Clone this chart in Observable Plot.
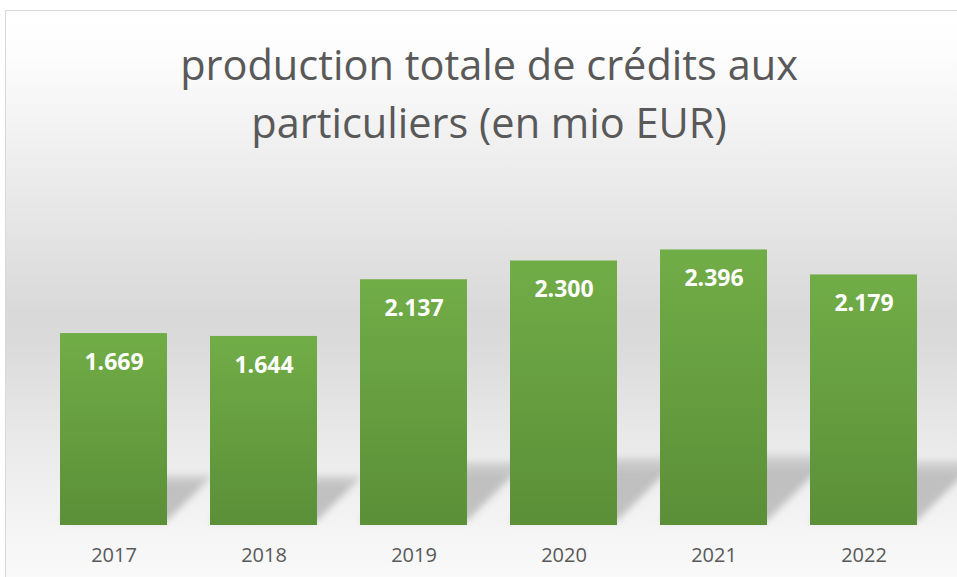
<!DOCTYPE html>
<html>
<head>
<meta charset="utf-8">
<script src="https://cdn.jsdelivr.net/npm/d3@7"></script>
<script src="https://cdn.jsdelivr.net/npm/@observablehq/plot@0.6"></script>
<style>
  html, body { margin: 0; padding: 0; background: #ffffff; }
  #wrap { position: relative; width: 957px; height: 577px; overflow: hidden; font-family: "Open Sans", sans-serif; }
  #panel { position: absolute; left: 5px; top: 10px; width: 970px; height: 600px; box-sizing: border-box;
    border: 1.5px solid #d9d9d9;
    background: linear-gradient(to bottom, #ffffff 0px, #fdfdfd 40px, #d9d9d9 300px, #dadada 330px, #e8e8e8 420px, #f6f6f6 530px, #fcfcfc 600px); }
  #title { position: absolute; left: 0; width: 978px; top: 35px; text-align: center; color: #595959;
    font-size: 41.5px; line-height: 58px; font-weight: 400; }
  #chart { position: absolute; left: 0; top: 170px; }
</style>
</head>
<body>
<div id="wrap">
  <div id="panel"></div>
  <div id="title">production totale de crédits aux<br>particuliers (en mio EUR)</div>
  <div id="chart"></div>
</div>
<script>
const years = ["2017", "2018", "2019", "2020", "2021", "2022"];
const values = [1669, 1644, 2137, 2300, 2396, 2179];

const data = years.map((year, i) => ({year, value: values[i]}));
const fmt = d3.formatLocale({decimal: ",", thousands: ".", grouping: [3], currency: ["", " €"]}).format(",d");

const svg = Plot.plot({
  width: 957,
  height: 407,
  marginLeft: 60,
  marginRight: 40,
  marginTop: 56,
  marginBottom: 52,
  style: {background: "transparent", color: "#595959", fontFamily: "'Open Sans', sans-serif", overflow: "visible"},
  x: {domain: years, paddingInner: 0.287, paddingOuter: 0, label: null},
  y: {domain: [0, 2600], axis: null},
  marks: [
    Plot.barY(data, {x: "year", y: "value", fill: "url(#shadowGrad)"}),
    Plot.barY(data, {x: "year", y: "value", fill: "url(#barGrad)"}),
    Plot.text(data, {x: "year", y: "value", text: d => fmt(d.value), dy: 29, fill: "white",
      fontWeight: "bold", fontSize: 23, lineAnchor: "middle"}),
    Plot.axisX({tickSize: 0, tickPadding: 22, fontSize: 20, label: null})
  ]
});

const s = d3.select(svg);
const defs = s.insert("defs", ":first-child");
const g1 = defs.append("linearGradient").attr("id", "barGrad").attr("x1", 0).attr("y1", 0).attr("x2", 0).attr("y2", 1);
g1.append("stop").attr("offset", "0%").attr("stop-color", "#71ad47");
g1.append("stop").attr("offset", "100%").attr("stop-color", "#5b8f38");
const g2 = defs.append("linearGradient").attr("id", "shadowGrad").attr("x1", 0).attr("y1", 0).attr("x2", 0).attr("y2", 1);
g2.append("stop").attr("offset", "0%").attr("stop-color", "#bdbdbd").attr("stop-opacity", 0.5);
g2.append("stop").attr("offset", "25%").attr("stop-color", "#bfbfbf").attr("stop-opacity", 1);
g2.append("stop").attr("offset", "100%").attr("stop-color", "#c2c2c2").attr("stop-opacity", 1);
const f = defs.append("filter").attr("id", "blur").attr("x", "-50%").attr("y", "-50%").attr("width", "200%").attr("height", "200%");
f.append("feGaussianBlur").attr("stdDeviation", 3.5);

const barGroups = s.selectAll("g[aria-label='bar']").nodes();
if (barGroups.length) {
  const shadow = d3.select(barGroups[0]);
  shadow.attr("filter", "url(#blur)");
  shadow.selectAll("rect").each(function() {
    const r = d3.select(this);
    const bottom = +r.attr("y") + +r.attr("height");
    r.attr("transform", `translate(0,${bottom - 4}) skewX(-45) scale(1,0.24) translate(0,${-bottom})`);
  });
}

document.getElementById("chart").appendChild(svg);
</script>
</body>
</html>
